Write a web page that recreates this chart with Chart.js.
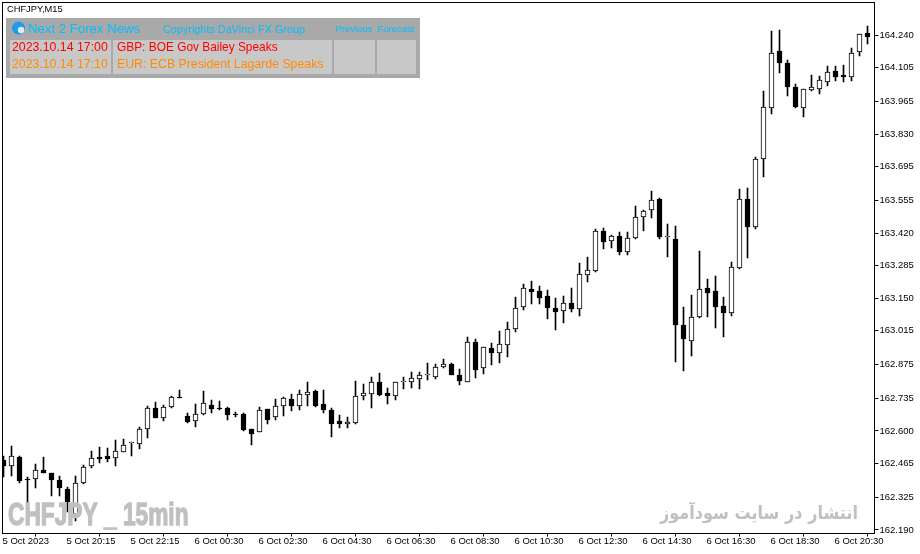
<!DOCTYPE html>
<html>
<head>
<meta charset="utf-8">
<style>html,body{margin:0;padding:0;background:#fff}canvas{display:block}</style>
<script src="https://cdn.jsdelivr.net/npm/chart.js@4"></script>
</head>
<body>
<div style="width:920px;height:554px"><canvas id="c" width="920" height="554"></canvas></div>
<script>
const opens=[162.480,162.453,162.494,162.402,162.403,162.439,162.425,162.396,162.359,162.255,162.384,162.453,162.491,162.495,162.487,162.512,162.549,162.545,162.607,162.694,162.652,162.701,162.740,162.661,162.640,162.669,162.707,162.696,162.694,162.672,162.671,162.607,162.594,162.690,162.660,162.703,162.732,162.705,
162.751,162.765,162.711,162.686,162.640,162.627,162.635,162.743,162.752,162.802,162.756,162.743,162.801,162.801,162.817,162.830,162.825,162.863,162.876,162.831,162.801,162.968,162.859,162.943,162.925,162.958,163.024,163.112,163.187,163.179,163.158,163.108,163.096,163.129,
163.107,163.245,163.264,163.427,163.386,163.406,163.343,163.398,163.485,163.514,163.560,163.405,163.394,163.039,162.974,163.074,163.191,163.179,163.117,163.090,163.277,163.560,
163.446,163.725,163.936,164.172,164.123,164.023,163.936,164.014,164.018,164.047,164.089,164.073,164.067,164.168,164.247];
const highs=[162.497,162.538,162.497,162.411,162.464,162.491,162.425,162.414,162.367,162.414,162.460,162.518,162.533,162.529,162.563,162.567,162.555,162.616,162.704,162.719,162.708,162.745,162.770,162.676,162.712,162.766,162.729,162.725,162.698,162.680,162.675,162.607,162.698,162.690,162.732,162.740,162.754,162.770,
162.802,162.769,162.770,162.694,162.667,162.658,162.807,162.795,162.823,162.841,162.778,162.802,162.823,162.843,162.843,162.882,162.878,162.899,162.881,162.857,162.990,162.980,162.947,162.963,163.014,163.052,163.154,163.209,163.221,163.201,163.184,163.151,163.159,163.192,
163.295,163.319,163.435,163.439,163.412,163.424,163.424,163.532,163.515,163.594,163.565,163.457,163.449,163.114,163.163,163.346,163.230,163.242,163.155,163.300,163.602,163.606,
163.733,164.008,164.256,164.261,164.136,164.037,164.015,164.074,164.070,164.112,164.112,164.116,164.186,164.244,164.277];
const lows=[162.411,162.414,162.386,162.301,162.366,162.424,162.331,162.331,162.266,162.229,162.382,162.445,162.469,162.473,162.455,162.511,162.498,162.526,162.571,162.652,162.642,162.697,162.736,162.635,162.618,162.668,162.676,162.687,162.646,162.660,162.602,162.542,162.594,162.629,162.646,162.663,162.683,162.685,
162.705,162.701,162.676,162.577,162.614,162.614,162.631,162.730,162.697,162.743,162.712,162.730,162.776,162.780,162.776,162.813,162.816,162.859,162.830,162.792,162.801,162.821,162.836,162.874,162.883,162.907,163.010,163.101,163.126,163.126,163.064,163.019,163.049,163.094,
163.078,163.219,163.260,163.354,163.358,163.330,163.330,163.397,163.428,163.482,163.397,163.321,162.886,162.849,162.911,163.066,163.072,163.027,162.990,163.077,163.271,163.317,
163.437,163.653,163.913,164.084,163.989,163.938,163.900,164.008,163.997,164.029,164.051,164.045,164.049,164.153,164.203];
const closes=[162.455,162.495,162.393,162.395,162.437,162.424,162.399,162.362,162.304,162.384,162.450,162.487,162.486,162.485,162.516,162.544,162.552,162.607,162.694,162.652,162.698,162.740,162.737,162.639,162.669,162.715,162.693,162.693,162.668,162.668,162.605,162.589,162.686,162.647,162.703,162.736,162.705,162.754,
162.760,162.705,162.685,162.631,162.631,162.636,162.744,162.756,162.801,162.749,162.747,162.802,162.802,162.818,162.831,162.831,162.864,162.876,162.830,162.805,162.968,162.854,162.947,162.921,162.959,163.021,163.108,163.191,163.177,163.152,163.111,163.094,163.129,163.107,
163.249,163.266,163.427,163.384,163.406,163.343,163.398,163.485,163.510,163.555,163.405,163.408,163.041,162.979,163.071,163.187,163.173,163.115,163.090,163.278,163.560,163.446,
163.725,163.940,164.164,164.125,164.026,163.942,164.015,164.023,164.052,164.085,164.067,164.067,164.164,164.243,164.230];
const candleIndex=opens.map((_,i)=>i);
const priceTicks=[164.240,164.105,163.965,163.830,163.695,163.555,163.420,163.285,163.150,163.015,162.875,162.735,162.600,162.465,162.325,162.190];
const timeTicks=[0,8,16,24,32,40,48,56,64,72,80,88,96,104];
const timeLabels=['5 Oct 2023','5 Oct 20:15','5 Oct 22:15','6 Oct 00:30','6 Oct 02:30','6 Oct 04:30','6 Oct 06:30','6 Oct 08:30','6 Oct 10:30','6 Oct 12:30','6 Oct 14:30','6 Oct 16:30','6 Oct 18:30','6 Oct 20:30'];
const symbolTitle='CHFJPY,M15';
const panelTitle='Next 2 Forex News', panelCopy='Copyrights DaVinci FX Group', panelPrev='Previous', panelFore='Forecast';
const newsTimes=['2023.10.14 17:00','2023.10.14 17:10'];
const newsTexts=['GBP: BOE Gov Bailey Speaks','EUR: ECB President Lagarde Speaks'];
const watermarkLeft='CHFJPY _ 15min', watermarkRight='انتشار در سایت سودآموز';

const AXIS_FONT='"Liberation Sans"';
const snap={id:'snap',
 beforeDatasetsDraw(ch){
  ch.data.datasets.forEach((_,d)=>{
   ch.getDatasetMeta(d).data.forEach(el=>{
    el.x=Math.floor(el.x)+0.5;
    let t=Math.round(el.y),b=Math.round(el.base);
    if(t===b) b=t+1;
    el.y=t;el.base=b;
   });
  });
 }};
const overlay={id:'overlay',
 afterDraw(ch){
  const c=ch.ctx;
  c.save();
  c.fillStyle='#000';
  c.fillRect(2,2,872,1);c.fillRect(2,2,1,531);
  c.font='9.3px "Liberation Sans"';c.textBaseline='middle';c.textAlign='left';
  c.fillStyle='#000';c.fillText(symbolTitle,7,9.5);
  c.fillStyle='#A9A9A9';c.fillRect(6,18,414,60);
  c.fillStyle='#C8C8C8';
  [[10,40,101,34],[113,40,219,34],[334,40,41,34],[377,40,39,34]].forEach(r=>c.fillRect(...r));
  c.fillStyle='#1E9BEF';c.beginPath();c.arc(18.5,28,6.5,0,Math.PI*2);c.fill();
  c.fillStyle='#D8EEF8';c.beginPath();c.arc(21,30,3.2,0,Math.PI*2);c.fill();
  c.font='13.2px "Liberation Sans"';c.fillStyle='#00BFFF';c.fillText(panelTitle,28,29);
  c.font='10.85px "Liberation Sans"';c.fillText(panelCopy,163,30);
  c.font='9.5px "Liberation Sans"';c.fillText(panelPrev,335.5,29);c.fillText(panelFore,377.5,29);
  c.font='12.3px "Liberation Sans"';
  c.fillStyle='#FF0000';c.fillText(newsTimes[0],12,48);
  c.fillStyle='#FF8C00';c.fillText(newsTimes[1],12,65);c.fillText(newsTexts[1],117,65);
  c.font='11.9px "Liberation Sans"';
  c.fillStyle='#FF0000';c.fillText(newsTexts[0],117,48);
  c.fillStyle='#C0C0C0';c.strokeStyle='#C0C0C0';
  c.save();c.translate(8,525);c.scale(0.71,1);c.font='bold 32px "Liberation Sans"';c.textBaseline='alphabetic';c.lineWidth=1.4;c.strokeText(watermarkLeft,0,0);c.fillText(watermarkLeft,0,0);c.restore();
  c.save();c.translate(858,519);c.scale(0.87,1);c.font='bold 18.5px "DejaVu Sans"';c.textAlign='right';c.textBaseline='alphabetic';c.direction='rtl';
  c.fillText(watermarkRight,0,0);c.restore();
  c.restore();
 }};

new Chart(document.getElementById('c'),{
 type:'bar',
 data:{datasets:[
  {label:'wick',order:2,grouped:false,barThickness:1,backgroundColor:'#000',borderWidth:0,
   data:candleIndex.map(i=>({x:i,y:[lows[i],highs[i]]}))},
  {label:'body',order:1,grouped:false,barThickness:5,minBarLength:1,borderWidth:1,borderColor:'#000',borderSkipped:false,
   backgroundColor:candleIndex.map(i=>closes[i]>=opens[i]?'#fff':'#000'),
   data:candleIndex.map(i=>({x:i,y:[opens[i],closes[i]]}))}
 ]},
 options:{
  responsive:false,animation:false,devicePixelRatio:1,
  layout:{padding:{left:2,top:2.5,right:0,bottom:0}},
  plugins:{legend:{display:false},tooltip:{enabled:false},title:{display:false}},
  scales:{
   x:{type:'linear',offset:false,min:-0.1875,max:108.875,
    afterBuildTicks(s){s.ticks=timeTicks.map(v=>({value:v}));},
    afterFit(s){s.height=20.5;s.paddingLeft=0;s.paddingRight=0;s.paddingTop=0;s.paddingBottom=0;},
    grid:{drawOnChartArea:false,drawTicks:true,tickLength:3,color:'#000'},
    border:{display:true,color:'#000',width:1},
    ticks:{autoSkip:false,maxRotation:0,minRotation:0,align:'start',padding:-1,labelOffset:-1,color:'#000',font:{family:AXIS_FONT,size:9.5},
     callback(v){const k=timeTicks.indexOf(v);return k<0?'':timeLabels[k];}}},
   y:{type:'linear',position:'right',min:162.1755,max:164.3746,
    afterBuildTicks(s){s.ticks=priceTicks.map(v=>({value:v}));},
    afterFit(s){s.width=45.5;s.paddingLeft=0;s.paddingRight=0;s.paddingTop=0;s.paddingBottom=0;},
    grid:{drawOnChartArea:false,drawTicks:true,tickLength:4,color:'#000'},
    border:{display:true,color:'#000',width:1},
    ticks:{autoSkip:false,padding:1,color:'#000',font:{family:AXIS_FONT,size:9.5},
     callback(v){return Number(v).toFixed(3);}}}
  }
 },
 plugins:[snap,overlay]
});
</script>
</body>
</html>
